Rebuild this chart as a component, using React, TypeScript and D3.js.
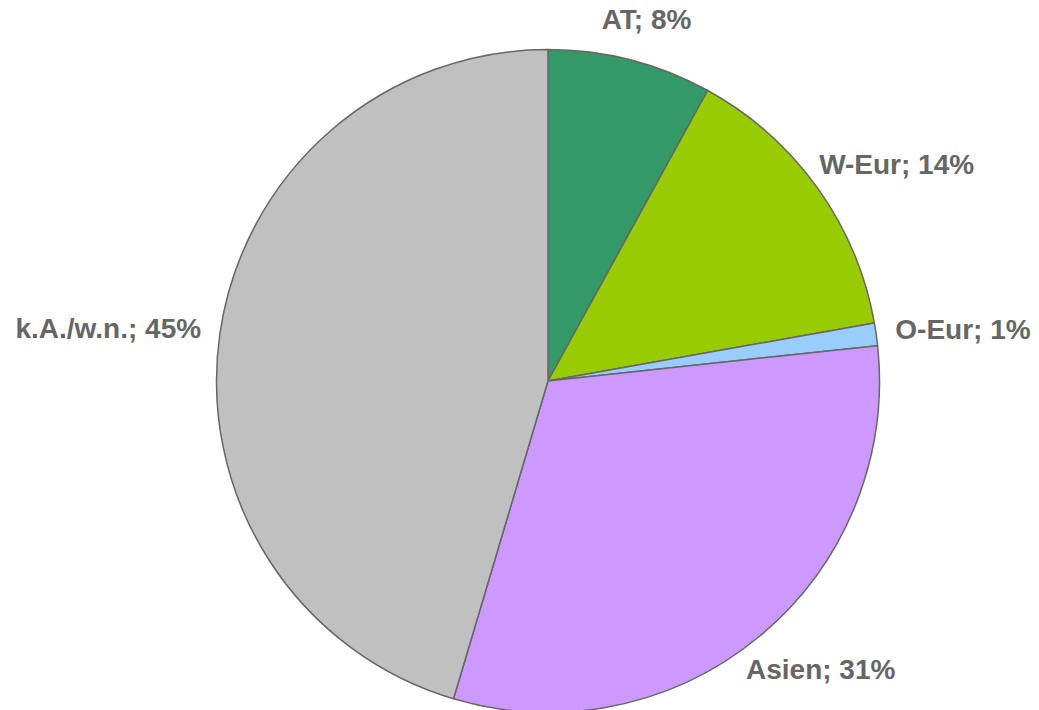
import React, { useEffect, useRef } from "react";
import * as d3 from "d3";

// Share of each region
const regions = ["AT", "W-Eur", "O-Eur", "Asien", "k.A./w.n."];
const shares = [8.0, 14.2, 1.1, 31.3, 45.4];
const colors = ["#339966", "#99CC00", "#99CCFF", "#CC99FF", "#C0C0C0"];

export default function App() {
  const svgRef = useRef<SVGSVGElement | null>(null);

  useEffect(() => {
    const width = 1039;
    const height = 710;
    const cx = 548;
    const cy = 381;
    const radius = 331.5;
    const gapX = 20;
    const gapY = 25;
    const capHeight = 21;

    const svg = d3.select(svgRef.current)
      .attr("width", width)
      .attr("height", height)
      .attr("viewBox", [0, 0, width, height]);

    svg.selectAll("*").remove();

    const data = regions.map((name, i) => ({ name, value: shares[i], color: colors[i] }));
    const total = d3.sum(shares);

    const pie = d3.pie<any>().sort(null).value(d => d.value);
    const arc = d3.arc<any>().innerRadius(0).outerRadius(radius);
    const arcs = pie(data);

    const g = svg.append("g").attr("transform", `translate(${cx},${cy})`);

    g.selectAll("path")
      .data(arcs)
      .join("path")
      .attr("d", arc)
      .attr("fill", d => d.data.color)
      .attr("stroke", "#666666")
      .attr("stroke-width", 1.5)
      .attr("stroke-linejoin", "round");

    // Labels sit outside the slice, pushed out by half their box
    const labels = g.selectAll("text")
      .data(arcs)
      .join("text")
      .attr("font-family", "'Liberation Sans', Arial, sans-serif")
      .attr("font-weight", "bold")
      .attr("font-size", 28)
      .attr("fill", "#666666")
      .attr("text-anchor", "middle")
      .text(d => `${d.data.name}; ${Math.round((d.data.value / total) * 100)}%`);

    labels.each(function (d) {
      const el = this as SVGTextElement;
      const w = el.getComputedTextLength();
      const a = (d.startAngle + d.endAngle) / 2;
      const dx = Math.sin(a);
      const dy = -Math.cos(a);
      const x = dx * (radius + gapX) + dx * w / 2;
      const y = dy * (radius + gapY) + dy * (capHeight / 2 + 7);
      d3.select(el)
        .attr("x", x)
        .attr("y", y + capHeight / 2);
    });

    return () => {
      d3.select(svgRef.current).selectAll("*").remove();
    };
  }, []);

  return (
    <div style={{ position: "absolute", left: 0, top: 0 }}>
      <svg ref={svgRef} style={{ display: "block", background: "#ffffff" }} />
    </div>
  );
}
